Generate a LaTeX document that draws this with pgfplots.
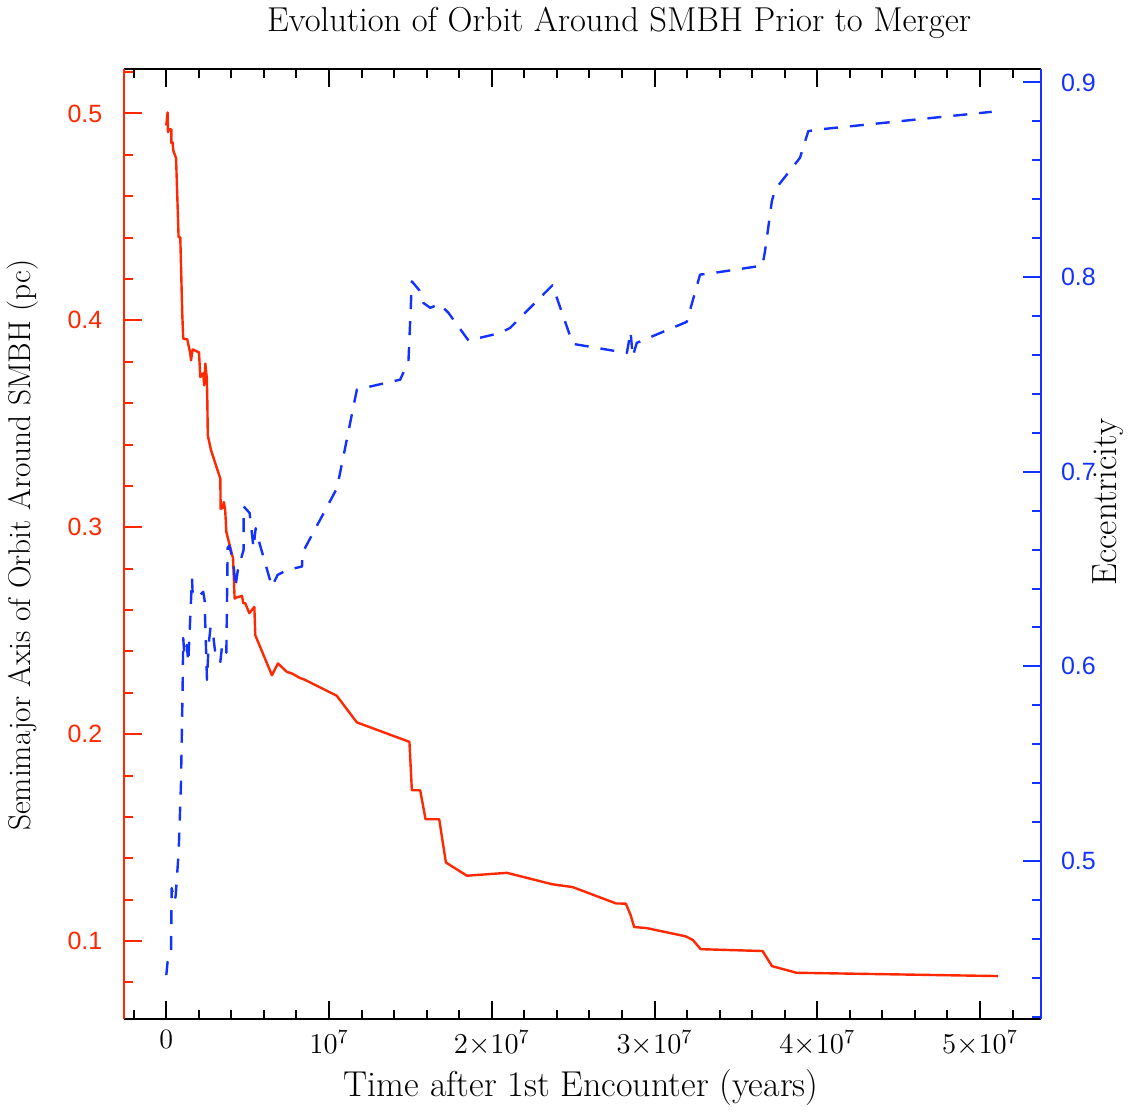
\documentclass[border=0pt]{standalone}
\usepackage{pgfplots}
\pgfplotsset{compat=1.18}
\usepackage{fontspec}
\newfontfamily\sansf{Liberation Sans}
\definecolor{sred}{RGB}{255,40,0}
\definecolor{sblue}{RGB}{20,50,255}

\begin{document}
\begin{tikzpicture}
\pgfplotsset{
  common/.style={
    scale only axis, width=458.5pt, height=475pt,
    xmin=-0.258, xmax=5.375,
    tick align=inside,
    major tick length=9pt, minor tick length=4.5pt,
    clip=false,
  }
}
% left axis: semimajor axis (red), time in units of 1e7 yr
\begin{axis}[common, name=ax,
  ymin=0.0623, ymax=0.5213,
  separate axis lines,
  x axis line style={black, line width=1pt},
  y axis line style={sred, line width=1pt},
  xtick={0,1,2,3,4,5},
  xticklabels={0,$10^7$,$2{\times}10^7$,$3{\times}10^7$,$4{\times}10^7$,$5{\times}10^7$},
  minor xtick={-0.2,0,...,5.2},
  xtick pos=both, xticklabel pos=bottom,
  xtick style={black, line width=1pt},
  xticklabel style={font=\fontsize{14}{16}\selectfont, yshift=-2pt},
  ytick={0.1,0.2,0.3,0.4,0.5},
  yticklabels={0.1,0.2,0.3,0.4,0.5},
  minor ytick={0.08,0.10,...,0.52},
  ytick pos=left,
  ytick style={sred, line width=1pt},
  yticklabel style={font=\sansf\fontsize{12.5}{14}\selectfont, text=sred, xshift=-7.5pt},
]
\addplot[sred, line width=1.2pt, line join=round] coordinates {
(0,0.4942) (0.008,0.5005) (0.0104,0.491) (0.018,0.4923) (0.031,0.4923)
(0.031,0.4857) (0.039,0.486) (0.043,0.4821) (0.060,0.4784) (0.0756,0.4402)
(0.086,0.4401) (0.098,0.4034) (0.104,0.3912) (0.129,0.3908) (0.147,0.3841)
(0.152,0.3807) (0.162,0.386) (0.201,0.3845) (0.209,0.3726) (0.227,0.3744)
(0.233,0.3686) (0.240,0.3791) (0.249,0.372) (0.252,0.3614) (0.255,0.3444)
(0.275,0.3372) (0.332,0.3235) (0.334,0.309) (0.344,0.3092) (0.354,0.3122)
(0.362,0.3082) (0.369,0.2977) (0.41,0.285) (0.42,0.2656) (0.436,0.2662)
(0.465,0.2668) (0.473,0.2633) (0.485,0.2633) (0.51,0.2585) (0.541,0.2615)
(0.547,0.2478) (0.649,0.2285) (0.686,0.2342) (0.741,0.2301) (0.768,0.2295)
(0.823,0.2271) (0.843,0.2266) (1.047,0.2186) (1.171,0.2057) (1.494,0.1963)
(1.509,0.1729) (1.56,0.1729) (1.593,0.1589) (1.677,0.1589) (1.718,0.138)
(1.847,0.1316) (2.093,0.133) (2.37,0.1275) (2.497,0.1261) (2.764,0.1182)
(2.824,0.1181) (2.853,0.1126) (2.875,0.1068) (2.951,0.1063) (3.192,0.1023)
(3.236,0.1005) (3.284,0.0961) (3.664,0.0952) (3.722,0.0879) (3.872,0.0847)
(5.112,0.0831)
};
\end{axis}
% right axis: eccentricity (blue dashed)
\begin{axis}[common,
  ymin=0.4188, ymax=0.9067,
  axis x line=none, axis y line*=right,
  y axis line style={sblue, line width=1pt},
  ytick={0.5,0.6,0.7,0.8,0.9},
  yticklabels={0.5,0.6,0.7,0.8,0.9},
  minor ytick={0.42,0.44,...,0.9},
  ytick style={sblue, line width=1pt},
  yticklabel style={font=\sansf\fontsize{12.5}{14}\selectfont, text=sblue, xshift=6.5pt},
]
\addplot[sblue, line width=1.2pt, dash pattern=on 7pt off 6pt, line join=round] coordinates {
(0,0.4414) (0.008,0.4482) (0.029,0.4517) (0.033,0.4861) (0.052,0.4794)
(0.058,0.4825) (0.076,0.5048) (0.090,0.5391) (0.100,0.587) (0.104,0.6146)
(0.111,0.606) (0.126,0.611) (0.135,0.602) (0.158,0.6453) (0.162,0.6378)
(0.19,0.6352) (0.215,0.6373) (0.227,0.6383) (0.235,0.6342) (0.25,0.5931)
(0.26,0.611) (0.272,0.6203) (0.29,0.6147) (0.30,0.6075) (0.313,0.6033)
(0.332,0.6023) (0.342,0.61) (0.362,0.611) (0.369,0.607) (0.377,0.6609)
(0.387,0.662) (0.413,0.6537) (0.424,0.6404) (0.44,0.6496) (0.475,0.6599)
(0.475,0.6822) (0.512,0.6788) (0.536,0.6608) (0.549,0.671) (0.561,0.6667)
(0.649,0.641) (0.684,0.647) (0.745,0.6496) (0.834,0.6513) (0.837,0.6584)
(1.049,0.6916) (1.171,0.7422) (1.437,0.7473) (1.488,0.7567) (1.509,0.7978)
(1.556,0.7931) (1.58,0.7867) (1.622,0.7842) (1.679,0.7862) (1.734,0.7816)
(1.857,0.7674) (2.052,0.7713) (2.113,0.7739) (2.373,0.7958) (2.498,0.7657)
(2.83,0.761) (2.853,0.772) (2.866,0.7591) (2.891,0.7662) (3.198,0.777)
(3.28,0.8013) (3.321,0.8016) (3.663,0.8059) (3.679,0.8133) (3.721,0.839)
(3.741,0.845) (3.894,0.8613) (3.945,0.875) (4.007,0.8758) (5.072,0.8849)
};
\end{axis}
% titles and axis labels
\node[font=\fontsize{17.3}{19}\selectfont] at ([shift={(247.5pt,498.5pt)}]ax.south west) {Evolution of Orbit Around SMBH Prior to Merger};
\node[font=\fontsize{18}{20}\selectfont] at ([shift={(228.5pt,-34pt)}]ax.south west) {Time after 1st Encounter (years)};
\node[font=\fontsize{15.7}{18}\selectfont, rotate=90] at ([shift={(-51pt,237pt)}]ax.south west) {Semimajor Axis of Orbit Around SMBH (pc)};
\node[font=\fontsize{17.5}{19}\selectfont, rotate=90] at ([shift={(492pt,258.5pt)}]ax.south west) {Eccentricity};
% page frame matching the reference
\path ([shift={(-62pt,-44.5pt)}]ax.south west) rectangle ++(566.5pt,551.5pt);
\end{tikzpicture}
\end{document}
